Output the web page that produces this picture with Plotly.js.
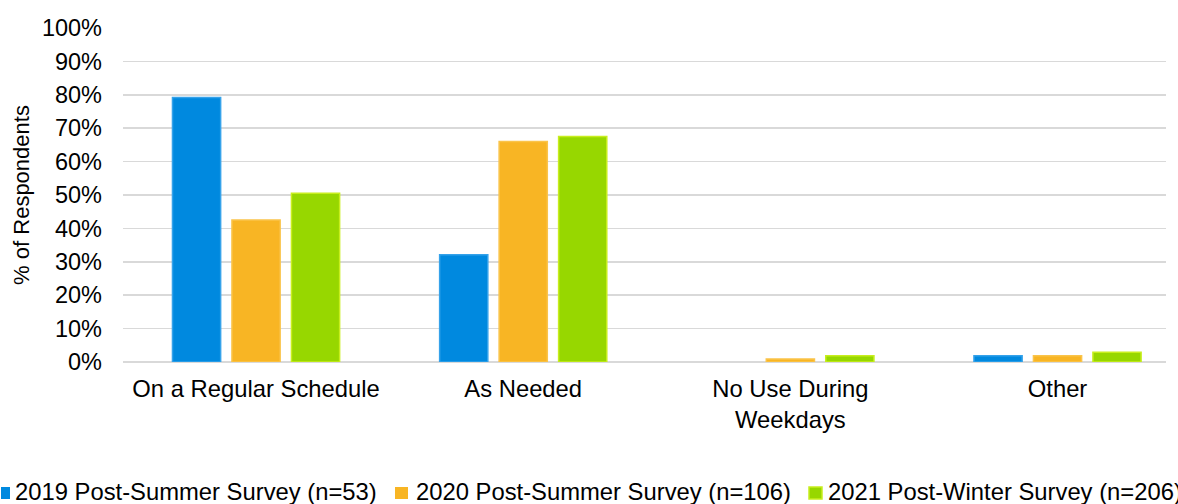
<!DOCTYPE html>
<html>
<head>
<meta charset="utf-8">
<script src="https://cdn.plot.ly/plotly-3.0.1.min.js"></script>
<style>
  html, body { margin: 0; padding: 0; background: #ffffff; overflow: hidden; }
  #chart { width: 1178px; height: 504px; }
</style>
</head>
<body>
<div id="chart"></div>
<script>
// Usage pattern categories (x axis)
const categories = ['On a Regular Schedule', 'As Needed', 'No Use During<br>Weekdays', 'Other'];

// Survey series names
const seriesNames = [
  '2019 Post-Summer Survey (n=53)',
  '2020 Post-Summer Survey (n=106)',
  '2021 Post-Winter Survey (n=206)'
];

// Share of respondents, percent
const values2019 = [79.2, 32.1, 0, 1.9];
const values2020 = [42.5, 66.0, 0.9, 1.9];
const values2021 = [50.5, 67.5, 1.9, 2.9];

// Y axis ticks
const yTickVals = [0, 10, 20, 30, 40, 50, 60, 70, 80, 90, 100];
const yTickText = ['0%', '10%', '20%', '30%', '40%', '50%', '60%', '70%', '80%', '90%', '100%'];

const fills = ['#0089DF', '#F8B524', '#97D700'];
const edges = ['#35A2EA', '#FAC44A', '#C8EE1E'];
const seriesValues = [values2019, values2020, values2021];

const FONT = 'Liberation Sans, Arial, Helvetica, sans-serif';
const TEXT_SIZE = 23.8;

const traces = seriesValues.map((vals, i) => ({
  type: 'bar',
  name: seriesNames[i],
  x: categories,
  y: vals,
  marker: {
    color: fills[i],
    // no outline on empty bars so they leave no trace on the baseline
    line: { color: edges[i], width: vals.map(v => (v > 0 ? 1.5 : 0)) }
  },
  hovertemplate: '%{y:.1f}%<extra>' + seriesNames[i] + '</extra>'
}));

// Legend drawn as swatches + labels below the plot (plot area: x 123..1166, y 28..362)
const L = 123, R = 1166, T = 28, B = 362;
const px2x = p => (p - L) / (R - L);
const py2y = p => (B - p) / (B - T);
const swatchX = [[1, 10], [395, 408], [809, 822]];
const labelX = [12.5, 413.5, 826];
const shapes = [];
const annotations = [];
seriesNames.forEach((name, i) => {
  shapes.push({
    type: 'rect', xref: 'paper', yref: 'paper',
    x0: px2x(swatchX[i][0]), x1: px2x(swatchX[i][1]),
    y0: py2y(499), y1: py2y(487),
    fillcolor: fills[i],
    line: { color: edges[i], width: i === 2 ? 1.5 : 0 }
  });
  annotations.push({
    xref: 'paper', yref: 'paper',
    x: px2x(labelX[i]), y: py2y(491.5),
    xanchor: 'left', yanchor: 'middle',
    text: name, showarrow: false,
    font: { family: FONT, size: TEXT_SIZE, color: '#000000' }
  });
});

const layout = {
  width: 1178,
  height: 504,
  margin: { l: L, r: 1178 - R, t: T, b: 504 - B, pad: 0 },
  paper_bgcolor: '#ffffff',
  plot_bgcolor: '#ffffff',
  font: { family: FONT, size: 22, color: '#000000' },
  barmode: 'group',
  bargap: 0.332,
  bargroupgap: 0.19,
  showlegend: false,
  xaxis: {
    type: 'category',
    range: [-0.498, 3.406],
    tickfont: { family: FONT, size: TEXT_SIZE, color: '#000000' },
    ticks: '',
    ticklabelstandoff: 10,
    showline: false,
    showgrid: false,
    zeroline: false,
    automargin: false
  },
  yaxis: {
    range: [0, 100],
    tickvals: yTickVals,
    ticktext: yTickText,
    tickfont: { family: FONT, size: 23.5, color: '#000000' },
    ticks: '',
    ticklabelstandoff: 20,
    showgrid: true,
    gridcolor: '#D9D9D9',
    gridwidth: 1.5,
    zeroline: true,
    zerolinecolor: '#D9D9D9',
    zerolinewidth: 1.5,
    showline: false,
    automargin: false,
    title: {
      text: '% of Respondents',
      font: { family: FONT, size: 22, color: '#000000' },
      standoff: 6
    }
  },
  shapes: shapes,
  annotations: annotations
};

Plotly.newPlot('chart', traces, layout, { displayModeBar: false, staticPlot: true });
</script>
</body>
</html>
